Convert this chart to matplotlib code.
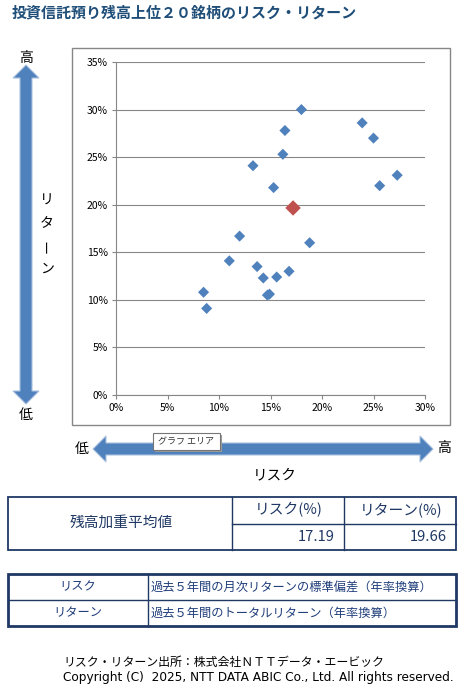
import numpy as np
import matplotlib
matplotlib.use("Agg")
import matplotlib.pyplot as plt
from matplotlib.patches import Polygon, Rectangle
from matplotlib.ticker import FuncFormatter

plt.rcParams["font.family"] = ["Noto Sans CJK JP", "DejaVu Sans"]

# data (percent)
risk = [8.5, 8.8, 11.0, 12.0, 13.3, 13.7, 14.3, 14.7, 14.9, 15.3,
        15.6, 16.2, 16.4, 16.8, 18.0, 18.8, 23.9, 25.0, 25.6, 27.3]
ret = [10.8, 9.1, 14.1, 16.7, 24.1, 13.5, 12.3, 10.5, 10.6, 21.8,
       12.4, 25.3, 27.8, 13.0, 30.0, 16.0, 28.6, 27.0, 22.0, 23.1]
avg_risk = 17.19
avg_ret = 19.66

x_ticks = [0, 5, 10, 15, 20, 25, 30]
y_ticks = [0, 5, 10, 15, 20, 25, 30, 35]

table_head = ["リスク(%)", "リターン(%)"]
table_label = "残高加重平均値"
notes = [("リスク", "過去５年間の月次リターンの標準偏差（年率換算）"),
         ("リターン", "過去５年間のトータルリターン（年率換算）")]

W, H = 473, 690
blue = "#4F81BD"
red = "#C0504D"
navy = "#1F3864"
grey = "#878787"

fig = plt.figure(figsize=(W / 100, H / 100), dpi=100)

# overlay in pixel coordinates
bg = fig.add_axes([0, 0, 1, 1])
bg.set_xlim(0, W)
bg.set_ylim(H, 0)
bg.axis("off")

bg.text(12, 12, "投資信託預り残高上位２０銘柄のリスク・リターン", fontsize=10.8,
        fontweight="bold", color="#1F4E79", va="center", ha="left")

# chart area border
bg.add_patch(Rectangle((72, 48), 378, 377, fill=False, edgecolor=grey, lw=1))


def double_arrow(c, a, b, vertical):
    hw, sw, hl = 13, 6, 13
    pts = [(a, 0), (a + hl, hw), (a + hl, sw), (b - hl, sw), (b - hl, hw),
           (b, 0), (b - hl, -hw), (b - hl, -sw), (a + hl, -sw), (a + hl, -hw)]
    if vertical:
        pts = [(c + q, p) for p, q in pts]
    else:
        pts = [(p, c + q) for p, q in pts]
    bg.add_patch(Polygon(pts, closed=True, facecolor=blue,
                         edgecolor="#A9C1DE", lw=0.8, zorder=2))


double_arrow(26, 65, 404, True)
double_arrow(449, 93, 433, False)

bg.text(26, 58, "高", fontsize=10, ha="center", va="center")
bg.text(26, 415, "低", fontsize=10, ha="center", va="center")
for i, ch in enumerate("リターン"):
    bg.text(47, 201 + i * 22.5, ch, fontsize=10, ha="center", va="center",
            rotation=0 if ch != "ー" else 90)
bg.text(82, 449, "低", fontsize=10, ha="center", va="center")
bg.text(444, 448, "高", fontsize=10, ha="center", va="center")
bg.text(275, 475, "リスク", fontsize=10.5, ha="center", va="center")

# tooltip box
bg.add_patch(Rectangle((155, 435), 67, 17, facecolor="#9a9a9a", edgecolor="none", zorder=3))
bg.add_patch(Rectangle((153, 433), 67, 17, facecolor="white", edgecolor="#767676", lw=0.8, zorder=4))
bg.text(186, 441.5, "グラフ エリア", fontsize=6.5, ha="center", va="center", zorder=5, color="#333333")

# summary table
bg.add_patch(Rectangle((8, 497), 448, 53, fill=False, edgecolor=navy, lw=1.3))
bg.plot([232, 232], [497, 550], color=navy, lw=1)
bg.plot([344, 344], [497, 550], color=navy, lw=1)
bg.plot([232, 456], [524, 524], color=navy, lw=1)
bg.text(121, 523, table_label, fontsize=10.6, ha="center", va="center", color=navy)
bg.text(289, 510, table_head[0], fontsize=10.6, ha="center", va="center", color=navy)
bg.text(401, 510, table_head[1], fontsize=10.6, ha="center", va="center", color=navy)
bg.text(335, 537, f"{avg_risk:.2f}", fontsize=10.6, ha="right", va="center", color=navy)
bg.text(447, 537, f"{avg_ret:.2f}", fontsize=10.6, ha="right", va="center", color=navy)

# notes table
bg.add_patch(Rectangle((8, 574), 448, 52, fill=False, edgecolor=navy, lw=2))
bg.plot([148, 148], [574, 626], color=navy, lw=1)
bg.plot([8, 456], [600, 600], color=navy, lw=1)
for i, (k, v) in enumerate(notes):
    y = 587 + i * 26
    bg.text(78, y, k, fontsize=8.8, ha="center", va="center", color="#1F3D7A")
    bg.text(151, y, v, fontsize=8.8, ha="left", va="center", color="#1F3D7A")

bg.text(63, 662, "リスク・リターン出所：株式会社ＮＴＴデータ・エービック", fontsize=8.6,
        ha="left", va="center")
bg.text(63, 677, "Copyright (C)  2025, NTT DATA ABIC Co., Ltd. All rights reserved.",
        fontsize=8.7, ha="left", va="center", family="DejaVu Sans")

# scatter plot
L, R, T, B = 116, 425, 62, 395
ax = fig.add_axes([L / W, (H - B) / H, (R - L) / W, (B - T) / H])
ax.set_xlim(0, 30)
ax.set_ylim(0, 35)
ax.set_xticks(x_ticks)
ax.set_yticks(y_ticks)
pct = FuncFormatter(lambda v, p: f"{v:.0f}%")
ax.xaxis.set_major_formatter(pct)
ax.yaxis.set_major_formatter(pct)
ax.tick_params(labelsize=7.5, length=3, color=grey, width=0.8, pad=3)
ax.grid(axis="y", color=grey, lw=0.8)
ax.set_axisbelow(True)
for s in ["top", "right"]:
    ax.spines[s].set_visible(False)
for s in ["left", "bottom"]:
    ax.spines[s].set_color(grey)
    ax.spines[s].set_linewidth(0.8)
ax.patch.set_alpha(0)

ax.scatter(risk, ret, marker="D", s=32, color=blue, edgecolors="none", zorder=3)
ax.scatter([avg_risk], [avg_ret], marker="D", s=62, color=red, edgecolors="none", zorder=4)

fig.savefig("out.png", dpi=100)
